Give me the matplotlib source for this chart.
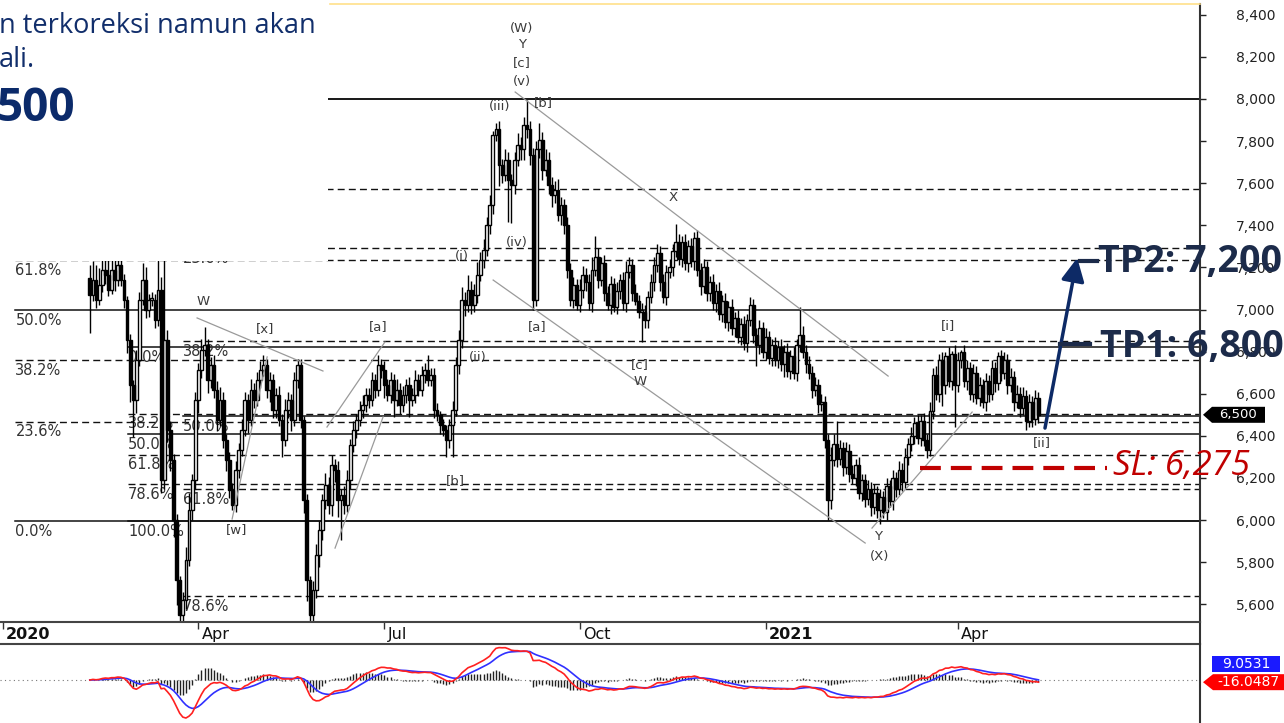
import numpy as np
import pandas as pd
import matplotlib
matplotlib.use("Agg")
import matplotlib.pyplot as plt
import matplotlib.transforms as mtransforms
from matplotlib.patches import Polygon, Rectangle

plt.rcParams["font.family"] = ["DejaVu Sans"]

# DATA: daily candles (index 0 = first trading day of 2020)

first_day = 28
open_first = 7150

close = [
    7070, 7140, 7045, 7115, 7190, 7165, 7095, 7190, 7140, 7210,
    7140, 7045, 6855, 6640, 6570, 6760, 7045, 7140, 7000, 7045,
    7045, 6950, 7095, 6190, 6855, 6430, 6285, 6000, 5715, 5550,
    5620, 5810, 6050, 6190, 6570, 6715, 6810, 6830, 6665, 6735,
    6620, 6475, 6570, 6380, 6285, 6145, 6070, 6240, 6335, 6430,
    6570, 6475, 6620, 6570, 6665, 6715, 6735, 6620, 6665, 6525,
    6595, 6475, 6380, 6525, 6570, 6475, 6665, 6735, 6475, 6095,
    5715, 5550, 5670, 5835, 5955, 6095, 6165, 6070, 6260, 6240,
    6095, 6120, 6070, 6190, 6355, 6430, 6475, 6525, 6545, 6595,
    6570, 6665, 6620, 6735, 6715, 6640, 6595, 6665, 6570, 6620,
    6545, 6595, 6640, 6570, 6595, 6665, 6620, 6690, 6715, 6665,
    6690, 6525, 6500, 6450, 6430, 6380, 6450, 6525, 6735, 6855,
    7045, 7020, 7095, 7020, 7070, 7165, 7235, 7285, 7400, 7495,
    7830, 7855, 7685, 7640, 7710, 7615, 7590, 7710, 7780, 7760,
    7875, 7855, 7735, 7045, 7760, 7805, 7665, 7710, 7590, 7545,
    7570, 7450, 7495, 7400, 7190, 7045, 7115, 7020, 7095, 7165,
    7130, 7030, 7190, 7250, 7140, 7220, 7080, 7020, 7120, 7010,
    7090, 7140, 7030, 7180, 7210, 7080, 7040, 6990, 6990, 6950,
    7060, 7130, 7210, 7270, 7130, 7060, 7180, 7200, 7280, 7320,
    7240, 7320, 7220, 7300, 7230, 7340, 7190, 7110, 7200, 7080,
    7130, 7030, 7090, 6980, 7040, 6940, 7010, 6910, 6960, 6870,
    6930, 6840, 6950, 7020, 6880, 6830, 6910, 6800, 6870, 6770,
    6830, 6760, 6820, 6740, 6800, 6710, 6780, 6700, 6830, 6880,
    6800, 6740, 6700, 6620, 6640, 6550, 6560, 6380, 6095, 6285,
    6360, 6290, 6340, 6250, 6330, 6220, 6200, 6260, 6130, 6190,
    6100, 6150, 6060, 6130, 6050, 6110, 6040, 6160, 6090, 6200,
    6150, 6240, 6180, 6300, 6360, 6400, 6460, 6390, 6470, 6380,
    6335, 6520, 6690, 6600, 6760, 6640, 6780, 6660, 6790, 6640,
    6760, 6800, 6660, 6720, 6600, 6700, 6580, 6640, 6560, 6660,
    6600, 6720, 6650, 6780, 6700, 6760, 6640, 6680, 6560, 6600,
    6530, 6590, 6470, 6560, 6480, 6580, 6500,
]

wick_up = [
    60, 90, 70, 80, 100, 60, 80, 90, 70, 80,
    40, 30, 20, 30, 25, 50, 40, 80, 60, 30,
    40, 30, 150, 60, 380, 50, 40, 30, 30, 20,
    40, 60, 80, 30, 40, 30, 50, 85, 30, 40,
    50, 40, 60, 40, 30, 40, 30, 40, 30, 50,
    40, 30, 50, 30, 40, 40, 50, 30, 40, 30,
    30, 40, 30, 50, 40, 30, 40, 30, 30, 20,
    30, 20, 40, 50, 40, 30, 60, 40, 50, 30,
    40, 30, 40, 50, 30, 40, 30, 40, 50, 30,
    30, 40, 30, 50, 30, 40, 30, 40, 30, 50,
    30, 40, 30, 40, 30, 50, 30, 40, 30, 70,
    30, 30, 30, 20, 30, 20, 30, 40, 40, 50,
    60, 40, 70, 40, 50, 60, 40, 50, 40, 50,
    20, 30, 40, 30, 50, 40, 30, 40, 60, 40,
    40, 120, 40, 30, 40, 80, 40, 50, 40, 40,
    40, 50, 40, 30, 40, 30, 40, 30, 50, 40,
    30, 40, 60, 100, 40, 30, 40, 30, 40, 30,
    40, 30, 40, 50, 40, 30, 40, 30, 40, 30,
    30, 40, 40, 40, 30, 40, 30, 40, 30, 85,
    40, 30, 40, 30, 40, 30, 40, 30, 40, 30,
    30, 40, 30, 40, 30, 40, 30, 40, 30, 40,
    30, 40, 30, 40, 30, 30, 40, 30, 40, 30,
    30, 40, 30, 40, 30, 40, 30, 40, 30, 130,
    40, 30, 40, 30, 40, 30, 40, 30, 30, 60,
    50, 110, 40, 30, 40, 30, 40, 30, 40, 30,
    30, 40, 30, 40, 30, 40, 30, 40, 30, 40,
    30, 40, 30, 40, 30, 40, 30, 40, 30, 40,
    30, 40, 30, 40, 30, 40, 20, 40, 15, 40,
    40, 10, 30, 40, 30, 40, 30, 40, 30, 40,
    30, 40, 30, 20, 30, 40, 30, 40, 30, 40,
    30, 40, 30, 40, 30, 40, 30,
]

wick_dn = [
    180, 30, 40, 25, 30, 45, 30, 20, 50, 30,
    30, 40, 60, 80, 175, 60, 30, 25, 40, 35,
    30, 40, 30, 60, 40, 60, 50, 80, 120, 200,
    150, 40, 30, 50, 40, 60, 40, 30, 60, 40,
    40, 50, 30, 40, 50, 40, 20, 30, 40, 30,
    30, 60, 30, 40, 30, 40, 30, 40, 60, 40,
    40, 30, 80, 30, 40, 50, 30, 40, 40, 60,
    100, 150, 80, 40, 60, 50, 40, 40, 50, 60,
    80, 190, 40, 30, 40, 30, 40, 30, 40, 30,
    40, 30, 40, 30, 40, 60, 30, 40, 80, 30,
    40, 30, 40, 80, 30, 40, 30, 30, 40, 30,
    30, 40, 30, 40, 30, 80, 40, 150, 30, 40,
    40, 50, 30, 40, 30, 40, 30, 40, 30, 40,
    40, 30, 100, 40, 30, 200, 180, 40, 30, 50,
    50, 40, 50, 45, 30, 40, 50, 30, 40, 60,
    40, 30, 50, 40, 40, 30, 40, 20, 30, 40,
    40, 30, 40, 30, 40, 30, 40, 20, 40, 20,
    30, 40, 30, 40, 30, 40, 20, 30, 145, 40,
    40, 30, 40, 30, 40, 30, 40, 30, 40, 30,
    30, 40, 30, 40, 30, 40, 30, 40, 30, 40,
    40, 30, 40, 30, 40, 30, 40, 30, 40, 30,
    40, 30, 40, 30, 40, 100, 40, 30, 40, 30,
    40, 30, 40, 30, 60, 30, 40, 30, 40, 30,
    30, 40, 30, 40, 30, 40, 30, 40, 95, 40,
    30, 40, 30, 40, 30, 40, 30, 40, 30, 40,
    40, 30, 40, 30, 40, 70, 30, 40, 30, 40,
    40, 30, 40, 30, 40, 30, 40, 30, 40, 30,
    40, 30, 40, 30, 40, 100, 40, 30, 40, 200,
    30, 40, 30, 40, 30, 40, 30, 40, 30, 40,
    40, 30, 40, 30, 40, 30, 40, 30, 40, 30,
    40, 30, 40, 30, 40, 30, 40,
]

# price axis and date axis
price_ticks = [5600, 5800, 6000, 6200, 6400, 6600, 6800, 7000, 7200, 7400, 7600, 7800, 8000, 8200, 8400]
date_pos = [0, 63, 123, 186, 246, 308]
date_lbl = ["2020", "Apr", "Jul", "Oct", "2021", "Apr"]
date_bold = [True, False, False, False, True, False]

# fibonacci retracements: start day, levels, labels, solid line?
# (labels left empty sit under the slide's text box)
fib1_start = 4
fib1_levels = [8000, 7571, 7234, 6998, 6761, 6468, 5995]
fib1_labels = ["", "", "61.8%", "50.0%", "38.2%", "23.6%", "0.0%"]
fib1_solid = [True, False, False, True, False, False, True]

fib2_start = 40.3
fib2_levels = [6822, 6506, 6408, 6311, 6172, 5995]
fib2_labels = ["0.0%", "38.2%", "50.0%", "61.8%", "78.6%", "100.0%"]
fib2_solid = [True, False, True, False, False, True]

fib3_start = 58
fib3_levels = [8000, 7292, 6850, 6494, 6148, 5639]
fib3_labels = ["", "23.6%", "38.2%", "50.0%", "61.8%", "78.6%"]
fib3_solid = [True, False, False, True, False, False]

# elliott wave labels (day, price)
wave_text = ["(W)", "Y", "[c]", "(v)", "(iii)", "[b]", "(i)", "(iv)", "(ii)", "[a]", "[a]",
             "[b]", "[x]", "W", "[w]", "X", "[c]", "W", "Y", "(X)", "[i]", "[ii]"]
wave_day = [167.4, 167.4, 167.4, 167.4, 160.3, 174.2, 148, 165.8, 153.2, 121, 172.3,
            145.8, 84.5, 64.5, 75.2, 216.1, 205.5, 205.5, 282.3, 282.9, 304.8, 335.2]
wave_price = [8337, 8257, 8171, 8085, 7962, 7981, 7254, 7316, 6770, 6917, 6917,
              6186, 6908, 7036, 5953, 7530, 6737, 6660, 5920, 5829, 6922, 6366]

# trend lines (day0, price0, day1, price1)
trend_lines = [
    (165.2, 8033, 285.5, 6684),
    (158.1, 7140, 278.1, 5891),
    (62.6, 6960, 103.2, 6708),
    (73.9, 6005, 85.2, 6775),
    (104.5, 6442, 123.2, 6846),
    (107.1, 5867, 122.6, 6490),
    (280.3, 5962, 312.6, 6513),
]

tp2, tp1, sl = 7200, 6800, 6275
macd_txt, signal_txt = "-16.0487", "9.0531"

# FIGURE

W, H = 1284, 723
fig = plt.figure(figsize=(W / 100, H / 100), dpi=100)
fig.patch.set_facecolor("white")


def fx(px):
    return px / W


def fy(py):
    return 1 - py / H


XMIN, XMAX = -0.97, 386.1
ax = fig.add_axes([0, fy(622), fx(1200), (622 - 4) / H])
ax_d = fig.add_axes([0, fy(644), fx(1200), 22 / H])
ax_m = fig.add_axes([0, 0, fx(1200), fy(644)])

for a in (ax, ax_d, ax_m):
    a.set_xlim(XMIN, XMAX)
    a.set_facecolor("none")
    for s in ("left", "top", "bottom"):
        a.spines[s].set_visible(False)
    a.spines["right"].set_color("#333333")
    a.spines["right"].set_linewidth(1.5)

ax.set_ylim(5516, 8451)

# CANDLES

close = np.array(close, dtype=float)
x = np.arange(first_day, first_day + len(close))
opn = np.r_[open_first, close[:-1]]
top = np.maximum(opn, close)
bot = np.minimum(opn, close)
high = top + np.array(wick_up)
low = bot - np.array(wick_dn)
up = close >= opn
body = np.maximum(top - bot, 8)

ax.vlines(x, low, high, color="black", lw=1.0, zorder=3)
ax.bar(x[up], body[up], bottom=bot[up], width=0.9, color="white",
       edgecolor="black", linewidth=1.0, zorder=4)
ax.bar(x[~up], body[~up], bottom=bot[~up], width=0.9, color="black",
       edgecolor="black", linewidth=1.0, zorder=4)

# FIBONACCI

for start, levels, labels, solid in [
    (fib1_start, fib1_levels, fib1_labels, fib1_solid),
    (fib2_start, fib2_levels, fib2_labels, fib2_solid),
    (fib3_start, fib3_levels, fib3_labels, fib3_solid),
]:
    for lv, lb, so in zip(levels, labels, solid):
        ax.plot([start, XMAX], [lv, lv], color="#111111",
                lw=1.1 if so else 1.0, ls="-" if so else (0, (5, 3)), zorder=1)
        if lb:
            ax.annotate(lb, (start, lv), xytext=(0, -2), textcoords="offset points",
                        ha="left", va="top", fontsize=10.5, color="#333333", zorder=2)

# WAVES AND TREND LINES

for x0, y0, x1, y1 in trend_lines:
    ax.plot([x0, x1], [y0, y1], color="#9a9a9a", lw=0.9, zorder=5)

for t, d, p in zip(wave_text, wave_day, wave_price):
    ax.text(d, p, t, ha="center", va="center", fontsize=9.5, color="#3a3a3a", zorder=6)

# PRICE AXIS

ax.yaxis.tick_right()
ax.set_yticks(price_ticks)
ax.set_yticklabels([f"{v:,}" for v in price_ticks])
ax.tick_params(axis="y", direction="out", length=4, width=1, pad=22,
               labelsize=10, colors="#222222")
ax.set_xticks([])

# DATE AXIS

ax_d.set_ylim(0, 1)
for s in ("top", "bottom"):
    ax_d.spines[s].set_visible(True)
    ax_d.spines[s].set_color("#444444")
    ax_d.spines[s].set_linewidth(1.5)
ax_d.set_yticks([])
ax_d.set_xticks(date_pos)
ax_d.tick_params(axis="x", direction="in", length=5, width=1, top=True,
                 bottom=False, labelbottom=False, color="#333333")
for p, l, b in zip(date_pos, date_lbl, date_bold):
    ax_d.text(p + 1.0, 0.42, l, fontsize=11.5, fontweight="bold" if b else "normal",
              ha="left", va="center", color="#111111")

# MACD

s = pd.Series(close)
macd = s.ewm(span=12, adjust=False).mean() - s.ewm(span=26, adjust=False).mean()
signal = macd.ewm(span=9, adjust=False).mean()
hist = macd - signal

span = -macd.min() / 0.481
ax_m.set_ylim(-0.544 * span, 0.456 * span)
ax_m.set_yticks([])
ax_m.set_xticks([])
ax_m.axhline(0, color="#777777", lw=0.8, ls=(0, (1, 3)), zorder=1)
ax_m.vlines(x, 0, hist, color="#222222", lw=1.0, zorder=2)
ax_m.plot(x, signal, color="#3030ff", lw=1.2, zorder=3)
ax_m.plot(x, macd, color="#ff2020", lw=1.2, zorder=4)

# WHITE BOX WITH SLIDE TEXT

fig.patches.append(Rectangle((0, fy(261)), fx(328), 261 / H, transform=fig.transFigure,
                             facecolor="white", edgecolor="none", zorder=20))
fig.lines.append(plt.Line2D([fx(330), fx(1200)], [fy(4), fy(4)], transform=fig.transFigure,
                            color="#ffe08a", lw=1.2, zorder=21))
fig.text(fx(-1), fy(33), "n terkoreksi namun akan", fontsize=19.5, family="Open Sans",
         color="#112e6b", va="baseline", ha="left", zorder=22)
fig.text(fx(-1), fy(67), "ali.", fontsize=19.5, family="Open Sans",
         color="#112e6b", va="baseline", ha="left", zorder=22)
fig.text(fx(-3), fy(121), "500", fontsize=33, family="Open Sans", fontweight="bold",
         color="#0b2a6a", va="baseline", ha="left", zorder=22)

# TRADE PLAN

navy = "#0d2a66"
ax.annotate("", xy=(346.5, 7245), xytext=(336.1, 6437),
            arrowprops=dict(arrowstyle="-|>,head_length=0.7,head_width=0.35",
                            color=navy, lw=2.5, shrinkA=0, shrinkB=0, mutation_scale=20),
            zorder=12, annotation_clip=False)
ax.plot([347.4, 352.9], [tp2 + 30, tp2 + 30], color="#1c2b4a", lw=3, zorder=12, clip_on=False)
ax.plot([341.0, 350.6], [tp1 + 36, tp1 + 36], color="#1c2b4a", lw=3, zorder=12, clip_on=False)
ax.text(353.2, tp2 + 26, f"TP2: {tp2:,}", fontsize=27, family="Open Sans", fontweight="bold",
        color="#1c2b4a", ha="left", va="center", zorder=13, clip_on=False)
ax.text(353.9, tp1 + 22, f"TP1: {tp1:,}", fontsize=27, family="Open Sans", fontweight="bold",
        color="#1c2b4a", ha="left", va="center", zorder=13, clip_on=False)
ax.plot([295.8, 356.1], [sl - 27, sl - 27], color="#c00000", lw=3,
        ls=(0, (5, 2.4)), zorder=12, clip_on=False)
ax.text(358.1, sl - 18, f"SL: {sl:,}", fontsize=25, family="Open Sans", style="italic",
        color="#c00000", ha="left", va="center", zorder=13, clip_on=False)

# RIGHT MARKERS

ident = mtransforms.IdentityTransform()
yd = ax.transData.transform((0, close[-1]))[1]
fig.patches.append(Polygon([(1203, yd), (1212, yd + 8), (1265, yd + 8), (1265, yd - 8), (1212, yd - 8)],
                           closed=True, transform=ident, facecolor="black", edgecolor="none", zorder=23))
fig.text(1238, yd, f"{close[-1]:,.0f}", transform=ident, color="white", fontsize=9.5,
         ha="center", va="center", zorder=24)

ym = ax_m.transData.transform((0, macd.iloc[-1]))[1]
fig.patches.append(Polygon([(1203, ym), (1213, ym + 8), (1284, ym + 8), (1284, ym - 8), (1213, ym - 8)],
                           closed=True, transform=ident, facecolor="#ff0000", edgecolor="none", zorder=23))
fig.text(1248, ym, macd_txt, transform=ident, color="white", fontsize=10,
         ha="center", va="center", zorder=24)
fig.patches.append(Polygon([(1212, ym + 10), (1280, ym + 10), (1280, ym + 26), (1212, ym + 26)],
                           closed=True, transform=ident, facecolor="#1a1aff", edgecolor="none", zorder=23))
fig.text(1246, ym + 18, signal_txt, transform=ident, color="white", fontsize=10,
         ha="center", va="center", zorder=24)

fig.savefig("out.png", dpi=100, facecolor="white")
